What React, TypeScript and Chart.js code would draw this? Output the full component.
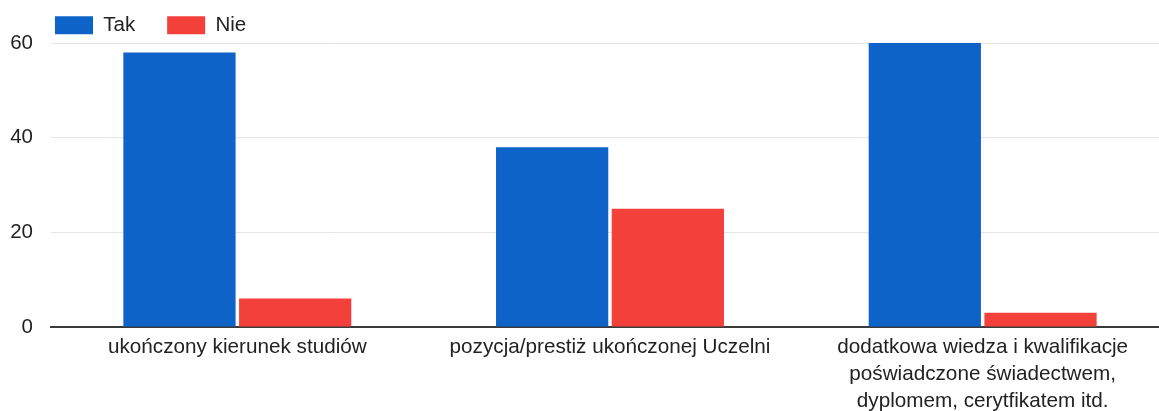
import React, { useEffect, useRef } from "react";
import { Chart, registerables } from "chart.js";

Chart.register(...registerables);

const categories: (string | string[])[] = [
  "ukończony kierunek studiów",
  "pozycja/prestiż ukończonej Uczelni",
  ["dodatkowa wiedza i kwalifikacje", "poświadczone świadectwem,", "dyplomem, cerytfikatem itd."],
];
const seriesNames = ["Tak", "Nie"];
const takValues = [58, 38, 60];
const nieValues = [6, 25, 3];
const yTicks = [0, 20, 40, 60];

const legendShift = {
  id: "legendShift",
  beforeLayout(chart: any) {
    const lg: any = chart.legend;
    if (lg && !lg.__patched) {
      const orig = lg.fit.bind(lg);
      lg.fit = function () {
        orig();
        this.height = 43;
      };
      lg.__patched = true;
    }
  },
  afterLayout(chart: any) {
    const lg: any = chart.legend;
    if (lg) {
      lg.left = 23;
      lg.top = -17;
    }
  },
};

export default function App() {
  const ref = useRef<HTMLCanvasElement>(null);
  useEffect(() => {
    if (!ref.current) return;
    Chart.defaults.font.family = "'Liberation Sans', Arial, sans-serif";
    Chart.defaults.font.size = 20;
    Chart.defaults.color = "#222";
    const chart = new Chart(ref.current, {
      type: "bar",
      data: {
        labels: categories,
        datasets: [
          {
            label: seriesNames[0],
            data: takValues,
            backgroundColor: "#0d63c8",
            barPercentage: 0.97,
            categoryPercentage: 0.621,
          },
          {
            label: seriesNames[1],
            data: nieValues,
            backgroundColor: "#f4403a",
            barPercentage: 0.97,
            categoryPercentage: 0.621,
          },
        ],
      },
      plugins: [legendShift],
      options: {
        responsive: false,
        animation: false,
        layout: { padding: 0 },
        plugins: {
          legend: {
            display: true,
            position: "top",
            align: "start",
            labels: {
              boxWidth: 38,
              boxHeight: 18,
              padding: 32,
              color: "#222",
              font: { size: 20.5 },
            },
          },
          tooltip: { enabled: false },
        },
        scales: {
          x: {
            grid: { display: false, drawTicks: false },
            border: { display: true, color: "#3a3a3a", width: 2 },
            ticks: {
              padding: 7,
              maxRotation: 0,
              autoSkip: false,
              color: "#222",
              font: { size: 20.7, lineHeight: 1.3 },
            },
            afterFit(scale: any) {
              scale.height = 84;
            },
          },
          y: {
            min: 0,
            max: 60,
            afterBuildTicks(scale: any) {
              scale.ticks = yTicks.map((v) => ({ value: v }));
            },
            grid: {
              drawTicks: false,
              color: (ctx: any) => (ctx.tick && ctx.tick.value === 0 ? "rgba(0,0,0,0)" : "#e4e4e4"),
              lineWidth: 1,
            },
            border: { display: false },
            ticks: {
              padding: 18,
              color: "#222",
              font: { size: 20.5 },
            },
            afterFit(scale: any) {
              scale.width = 51;
            },
          },
        },
      },
    });
    return () => chart.destroy();
  }, []);
  return (
    <div
      style={{
        position: "fixed",
        left: 0,
        top: 0,
        width: 1159,
        height: 411,
        overflow: "hidden",
        background: "#fff",
      }}
    >
      <canvas ref={ref} width={1169} height={411} style={{ display: "block" }} />
    </div>
  );
}
